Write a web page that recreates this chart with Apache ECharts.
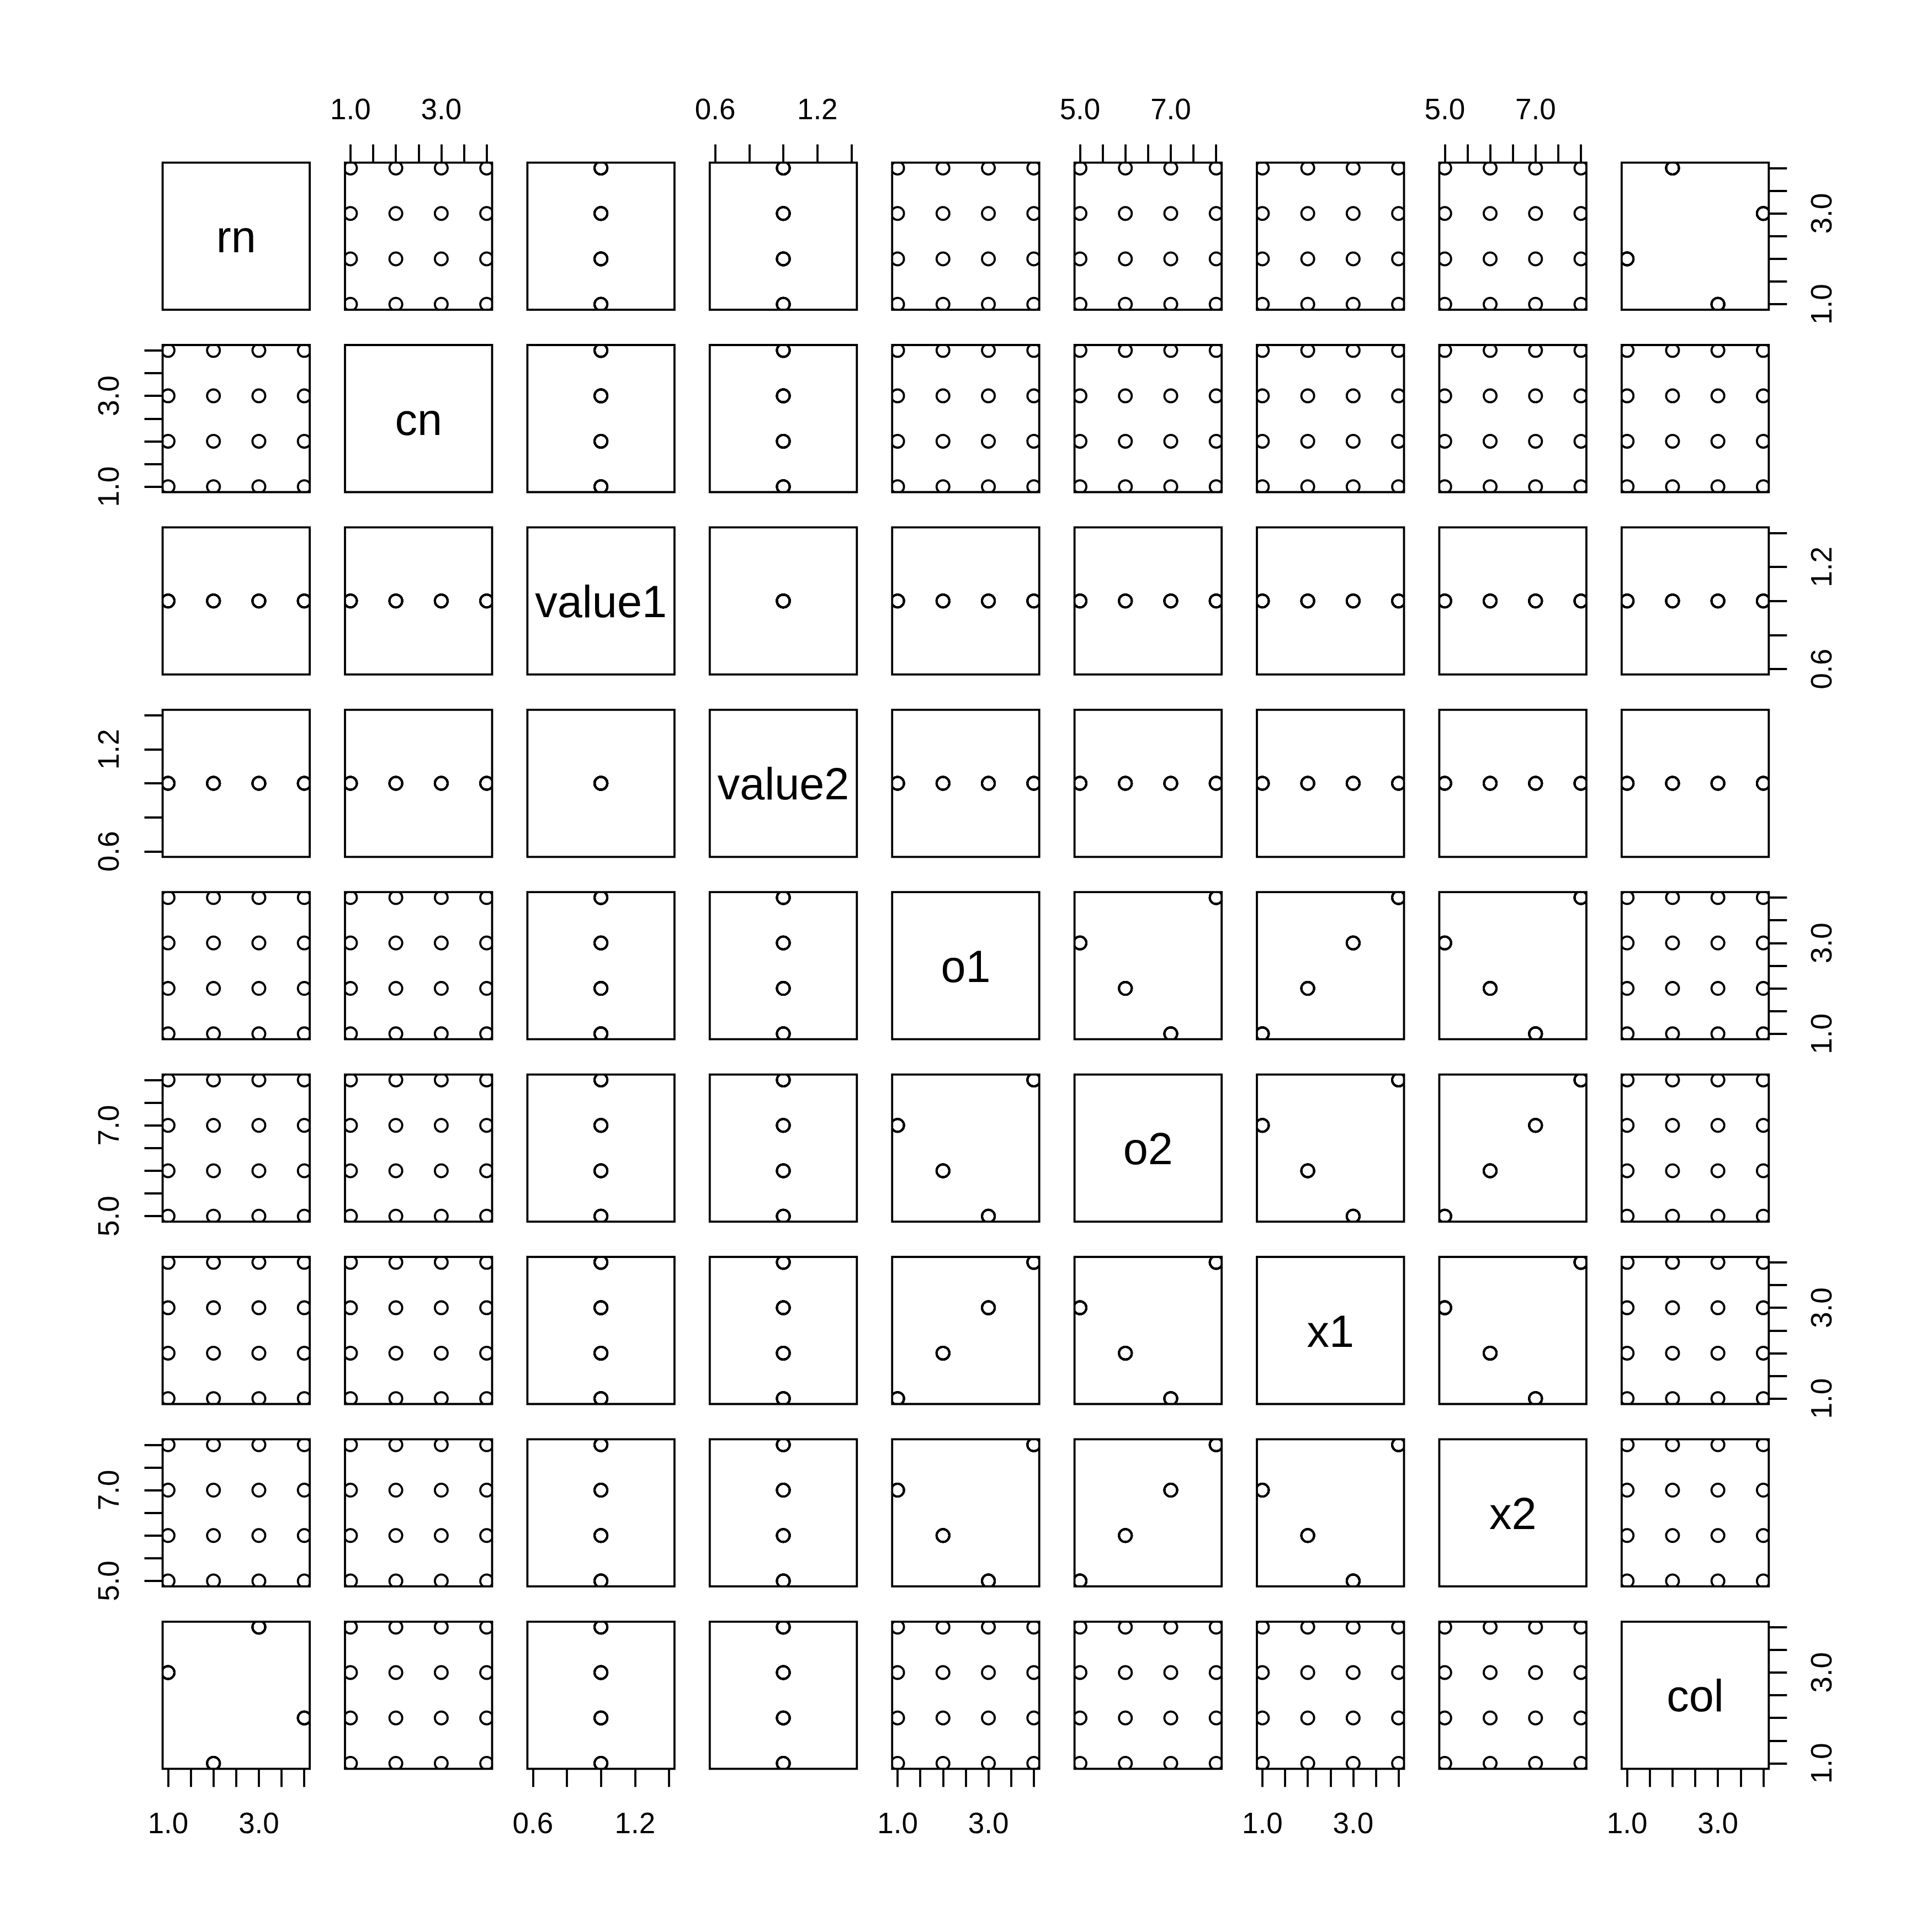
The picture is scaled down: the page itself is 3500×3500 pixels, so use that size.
<!DOCTYPE html>
<html><head><meta charset="utf-8">
<script src="https://cdn.jsdelivr.net/npm/echarts@6/dist/echarts.min.js"></script>
<style>html,body{margin:0;padding:0;background:#fff}#c{width:3500px;height:3500px}</style>
</head><body><div id="c"></div>
<script>
// ---- data (16 rows) ----
const varNames = ['rn','cn','value1','value2','o1','o2','x1','x2','col'];
const rn     = [1,1,1,1, 2,2,2,2, 3,3,3,3, 4,4,4,4];
const cn     = [1,2,3,4, 1,2,3,4, 1,2,3,4, 1,2,3,4];
const value1 = [1,1,1,1, 1,1,1,1, 1,1,1,1, 1,1,1,1];
const value2 = [1,1,1,1, 1,1,1,1, 1,1,1,1, 1,1,1,1];
const o1     = [3,4,1,2, 4,1,2,3, 1,2,3,4, 2,3,4,1];
const o2     = [5,8,7,6, 8,7,6,5, 7,6,5,8, 6,5,8,7];
const x1     = [3,4,1,2, 4,1,2,3, 1,2,3,4, 2,3,4,1];
const x2     = [5,8,7,6, 8,7,6,5, 7,6,5,8, 6,5,8,7];
const col    = [3,3,3,3, 1,1,1,1, 4,4,4,4, 2,2,2,2];
const columns = [rn, cn, value1, value2, o1, o2, x1, x2, col];

// ---- tick values and tick labels per variable ----
const ticks1to4  = [1, 1.5, 2, 2.5, 3, 3.5, 4];
const labels1to4 = [1, 3];
const ticks5to8  = [5, 5.5, 6, 6.5, 7, 7.5, 8];
const labels5to8 = [5, 7];
const ticksConst  = [0.6, 0.8, 1.0, 1.2, 1.4];
const labelsConst = [0.6, 1.2];
const varTicks  = [ticks1to4, ticks1to4, ticksConst, ticksConst, ticks1to4, ticks5to8, ticks1to4, ticks5to8, ticks1to4];
const varLabels = [labels1to4, labels1to4, labelsConst, labelsConst, labels1to4, labels5to8, labels1to4, labels5to8, labels1to4];

// R-style axis range: data range (or +/-40% when constant), extended by 4%
function rRange(arr) {
  let lo = Math.min(...arr), hi = Math.max(...arr);
  if (lo === hi) { lo = lo - 0.4 * Math.abs(lo); hi = hi + 0.4 * Math.abs(hi); }
  const d = (hi - lo) * 0.04;
  return [lo - d, hi + d];
}

// ---- layout ----
const N = varNames.length;
const PL = 294.6, STEP = 330.4, PW = 266.5;
const LW = 3.8, TICKLEN = 33, FONT = 'Liberation Sans';

const grids = [], xAxes = [], yAxes = [], series = [], graphics = [];
for (let i = 0; i < N; i++) {
  for (let j = 0; j < N; j++) {
    const k = grids.length;
    grids.push({
      left: PL + j * STEP, top: PL + i * STEP, width: PW, height: PW,
      show: true, borderColor: '#000', borderWidth: LW, backgroundColor: 'transparent',
      containLabel: false, outerBoundsMode: 'none'
    });
    const xr = rRange(columns[j]), yr = rRange(columns[i]);
    const showTop = (i === 0 && j % 2 === 1);
    const showBottom = (i === N - 1 && j % 2 === 0);
    const showLeft = (j === 0 && i % 2 === 1);
    const showRight = (j === N - 1 && i % 2 === 0);
    xAxes.push({
      gridIndex: k, type: 'value', min: xr[0], max: xr[1],
      show: showTop || showBottom, position: showTop ? 'top' : 'bottom',
      axisLine: { show: false, onZero: false },
      axisTick: { show: true, inside: false, length: TICKLEN, customValues: varTicks[j],
                  lineStyle: { color: '#000', width: LW } },
      axisLabel: { show: true, customValues: varLabels[j], formatter: v => Number(v).toFixed(1),
                   fontSize: 53, fontFamily: FONT, color: '#000', margin: showTop ? 67 : 76 },
      splitLine: { show: false }
    });
    yAxes.push({
      gridIndex: k, type: 'value', min: yr[0], max: yr[1],
      show: showLeft || showRight, position: showRight ? 'right' : 'left',
      axisLine: { show: false, onZero: false },
      axisTick: { show: true, inside: false, length: TICKLEN, customValues: varTicks[i],
                  lineStyle: { color: '#000', width: LW } },
      axisLabel: { show: true, rotate: 90, customValues: varLabels[i], formatter: v => Number(v).toFixed(1),
                   fontSize: 53, fontFamily: FONT, color: '#000', margin: showRight ? 73 : 68 },
      splitLine: { show: false }
    });
    if (i === j) {
      graphics.push({
        type: 'text', x: PL + j * STEP + PW / 2, y: PL + i * STEP + PW / 2 + 7,
        style: { text: varNames[i], font: '81px "' + FONT + '"', fill: '#000',
                 align: 'center', verticalAlign: 'middle' }
      });
    } else {
      const data = columns[j].map((v, r) => [v, columns[i][r]]);
      series.push({
        type: 'custom', xAxisIndex: k, yAxisIndex: k, clip: true, data: data,
        renderItem: function (params, api) {
          const p = api.coord([api.value(0), api.value(1)]);
          return { type: 'circle', shape: { cx: p[0], cy: p[1], r: 11.6 },
                   style: { fill: 'none', stroke: '#000', lineWidth: LW } };
        }
      });
    }
  }
}

const chart = echarts.init(document.getElementById('c'), null, { renderer: 'canvas' });
chart.setOption({
  animation: false,
  backgroundColor: '#fff',
  grid: grids, xAxis: xAxes, yAxis: yAxes, series: series, graphic: graphics
});
</script>
</body></html>
